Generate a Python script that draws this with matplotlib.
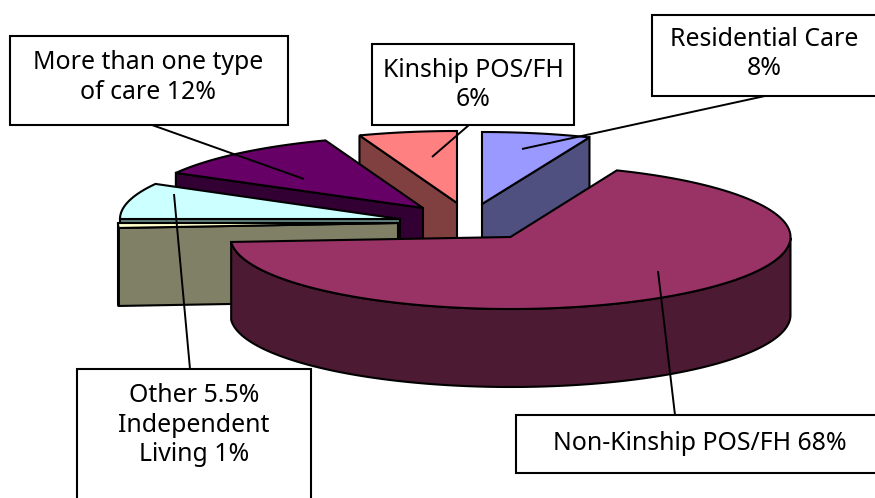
import numpy as np
import matplotlib
matplotlib.use("Agg")
import matplotlib.pyplot as plt
from matplotlib.patches import Polygon, Rectangle

# Data: categories and the share of the pie each slice occupies, as drawn (clockwise from 12 o'clock)
categories = ["Residential Care", "Non-Kinship POS/FH", "Independent Living",
              "Other", "More than one type of care", "Kinship POS/FH"]
shares = [6.2, 67.7, 1.1, 8.1, 11.3, 5.6]
labels = ["Residential Care\n8%", "Non-Kinship POS/FH 68%", "Other 5.5%\nIndependent\nLiving 1%",
          None, "More than one type\nof care 12%", "Kinship POS/FH\n6%"]

# Styles
top_colors = ["#9999FF", "#993366", "#FFFFCC", "#CCFFFF", "#660066", "#FF8080"]
wall_colors = ["#4F4F80", "#4D1A33", "#808066", "#668080", "#330033", "#804040"]
apex_x = [482, 510.5, 398, 400, 423, 457]
apex_y = [204, 237, 223, 219, 208, 203]
rx = [283, 280, 280, 280, 283, 283]
ry = 72
depth = 78
draw_order = [5, 0, 4, 3, 2, 1]

# Callouts: box (x0, y0, x1, y1), text centre, leader line
boxes = {0: (652, 15, 890, 96), 1: (516, 415, 890, 473), 2: (77, 369, 310.5, 520),
         4: (10, 36, 288, 125), 5: (372, 44, 574, 125)}
text_xy = {0: (764, 54), 1: (700, 443), 2: (194, 425), 4: (148, 77.5), 5: (473, 85)}
leaders = {0: ((765, 96), (522, 149)), 1: ((675, 415), (658, 271)), 2: ((190, 369), (174, 194)),
           4: ((152, 125), (304, 179)), 5: ((469, 125), (432, 157))}

fig = plt.figure(figsize=(8.75, 4.98), dpi=100)
ax = fig.add_axes([0, 0, 1, 1])
ax.set_xlim(0, 875)
ax.set_ylim(498, 0)
ax.axis("off")

edge = dict(edgecolor="black", linewidth=1.5, joinstyle="miter")
edges = 90 - np.cumsum([0] + shares) * 3.6


def pt(i, t):
    a = np.radians(t)
    return apex_x[i] + rx[i] * np.cos(a), apex_y[i] - ry * np.sin(a)


def wall(i, pts, z):
    pts = np.array(pts)
    low = pts[::-1] + [0, depth]
    ax.add_patch(Polygon(np.vstack([pts, low]), closed=True, facecolor=wall_colors[i], zorder=z, **edge))


for z, i in enumerate(draw_order):
    hi, lo = edges[i], edges[i + 1]
    base = z * 3 + 1
    apex = (apex_x[i], apex_y[i])
    if np.cos(np.radians(hi)) < -1e-6:
        wall(i, [apex, pt(i, hi)], base)
    if np.cos(np.radians(lo)) > 1e-6:
        wall(i, [apex, pt(i, lo)], base)
    # outer rim wall: the part of the arc facing the viewer
    ts = np.linspace(hi, lo, 240)
    front = [t for t in ts if np.sin(np.radians((t + 360) % 360)) <= 0]
    if len(front) > 1:
        wall(i, [pt(i, t) for t in front], base + 1)
    arc = [pt(i, t) for t in ts]
    ax.add_patch(Polygon([apex] + arc, closed=True, facecolor=top_colors[i], zorder=base + 2, **edge))

for i, (p0, p1) in leaders.items():
    ax.plot([p0[0], p1[0]], [p0[1], p1[1]], color="black", lw=1.4, zorder=50, solid_capstyle="butt")

for i, (x0, y0, x1, y1) in boxes.items():
    ax.add_patch(Rectangle((x0, y0), x1 - x0, y1 - y0, facecolor="white", edgecolor="black",
                           linewidth=1.5, zorder=60))
    ax.text(*text_xy[i], labels[i], ha="center", va="center", fontsize=17.9, family="Noto Sans",
            color="black", linespacing=1.26, zorder=61)

fig.savefig("out.png", dpi=100)
